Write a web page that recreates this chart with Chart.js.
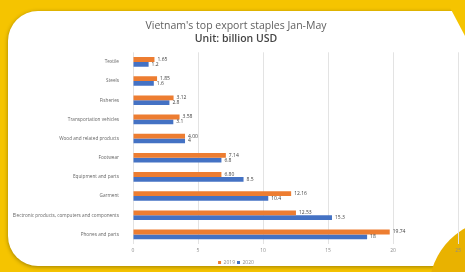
<!DOCTYPE html>
<html>
<head>
<meta charset="utf-8">
<script src="https://cdn.jsdelivr.net/npm/chart.js@4"></script>
<style>
  html, body { margin: 0; padding: 0; }
  body { width: 465px; height: 272px; background: #f5c400; position: relative; overflow: hidden; }
  .card { position: absolute; left: 8px; top: 11px; width: 500px; height: 255px; background: #fff;
          border-radius: 30px; box-shadow: 0 1px 4px rgba(0,0,0,0.35); }
  .corner-tr { position: absolute; left: 0; top: 0; width: 465px; height: 272px; background: #f5c400;
               clip-path: polygon(446px 0, 465px 0, 465px 36px); }
  .corner-br { position: absolute; left: 429px; top: 219px; width: 142px; height: 142px; border-radius: 50%;
               background: #e9b200; }
  canvas { position: absolute; left: 0; top: 0; }
</style>
</head>
<body>
<div class="card"></div>
<div class="corner-tr"></div>
<div class="corner-br"></div>
<canvas id="exportChart" width="465" height="272"></canvas>
<script>
// Vietnam exports Jan-May, billion USD
const categories = ['Textile', 'Steels', 'Fisheries', 'Transportation vehicles', 'Wood and related products',
    'Footwear', 'Equipment and parts', 'Garment', 'Electronic products, computers and components', 'Phones and parts'];
const values2019 = [1.65, 1.85, 3.12, 3.58, 4.00, 7.14, 6.80, 12.16, 12.53, 19.74];
const values2020 = [1.2, 1.6, 2.8, 3.1, 4, 6.8, 8.5, 10.4, 15.3, 18];
const xTicks = [0, 5, 10, 15, 20, 25];

const labelFormats = [v => v.toFixed(2), v => String(v)];

const valueLabels = {
    id: 'valueLabels',
    afterDatasetsDraw(chart) {
        const ctx = chart.ctx;
        ctx.save();
        ctx.font = '5px "Open Sans"';
        ctx.fillStyle = '#404040';
        ctx.textBaseline = 'middle';
        chart.data.datasets.forEach((ds, i) => {
            chart.getDatasetMeta(i).data.forEach((bar, j) => {
                ctx.fillText(labelFormats[i](ds.data[j]), bar.x + 3, bar.y);
            });
        });
        ctx.restore();
    }
};

new Chart(document.getElementById('exportChart').getContext('2d'), {
    type: 'bar',
    data: {
        labels: categories,
        datasets: [
            { label: '2019', data: values2019, backgroundColor: '#ed7d31' },
            { label: '2020', data: values2020, backgroundColor: '#4472c4' }
        ]
    },
    options: {
        indexAxis: 'y',
        responsive: false,
        animation: false,
        datasets: { bar: { categoryPercentage: 0.5, barPercentage: 1 } },
        layout: { padding: { left: 10, right: 3, top: 0, bottom: -3 } },
        plugins: {
            title: {
                display: true,
                text: "Vietnam's top export staples Jan-May",
                color: '#5f5f5f',
                font: { family: 'Open Sans', size: 10.5, weight: 'normal', lineHeight: 1.3 },
                padding: { top: 19, bottom: 0 }
            },
            subtitle: {
                display: true,
                text: 'Unit: billion USD',
                color: '#454545',
                font: { family: 'Open Sans', size: 10.5, weight: '600', lineHeight: 1.3 },
                padding: { top: 0, bottom: 6 }
            },
            legend: {
                position: 'bottom',
                labels: {
                    color: '#8c8c8c',
                    font: { family: 'Open Sans', size: 5 },
                    boxWidth: 3, boxHeight: 3, padding: 2
                }
            },
            tooltip: { enabled: false }
        },
        scales: {
            x: {
                min: 0, max: 25,
                afterBuildTicks: s => { s.ticks = xTicks.map(v => ({ value: v })); },
                grid: { color: '#e3e3e3', drawTicks: false },
                border: { display: false },
                ticks: { color: '#8c8c8c', font: { family: 'Open Sans', size: 5 }, padding: 4 }
            },
            y: {
                afterFit: s => { s.width = 123; },
                grid: { display: false },
                border: { display: false },
                ticks: { color: '#666666', font: { family: 'Open Sans', size: 4.7 }, padding: 6 }
            }
        }
    },
    plugins: [valueLabels]
});
</script>
</body>
</html>
